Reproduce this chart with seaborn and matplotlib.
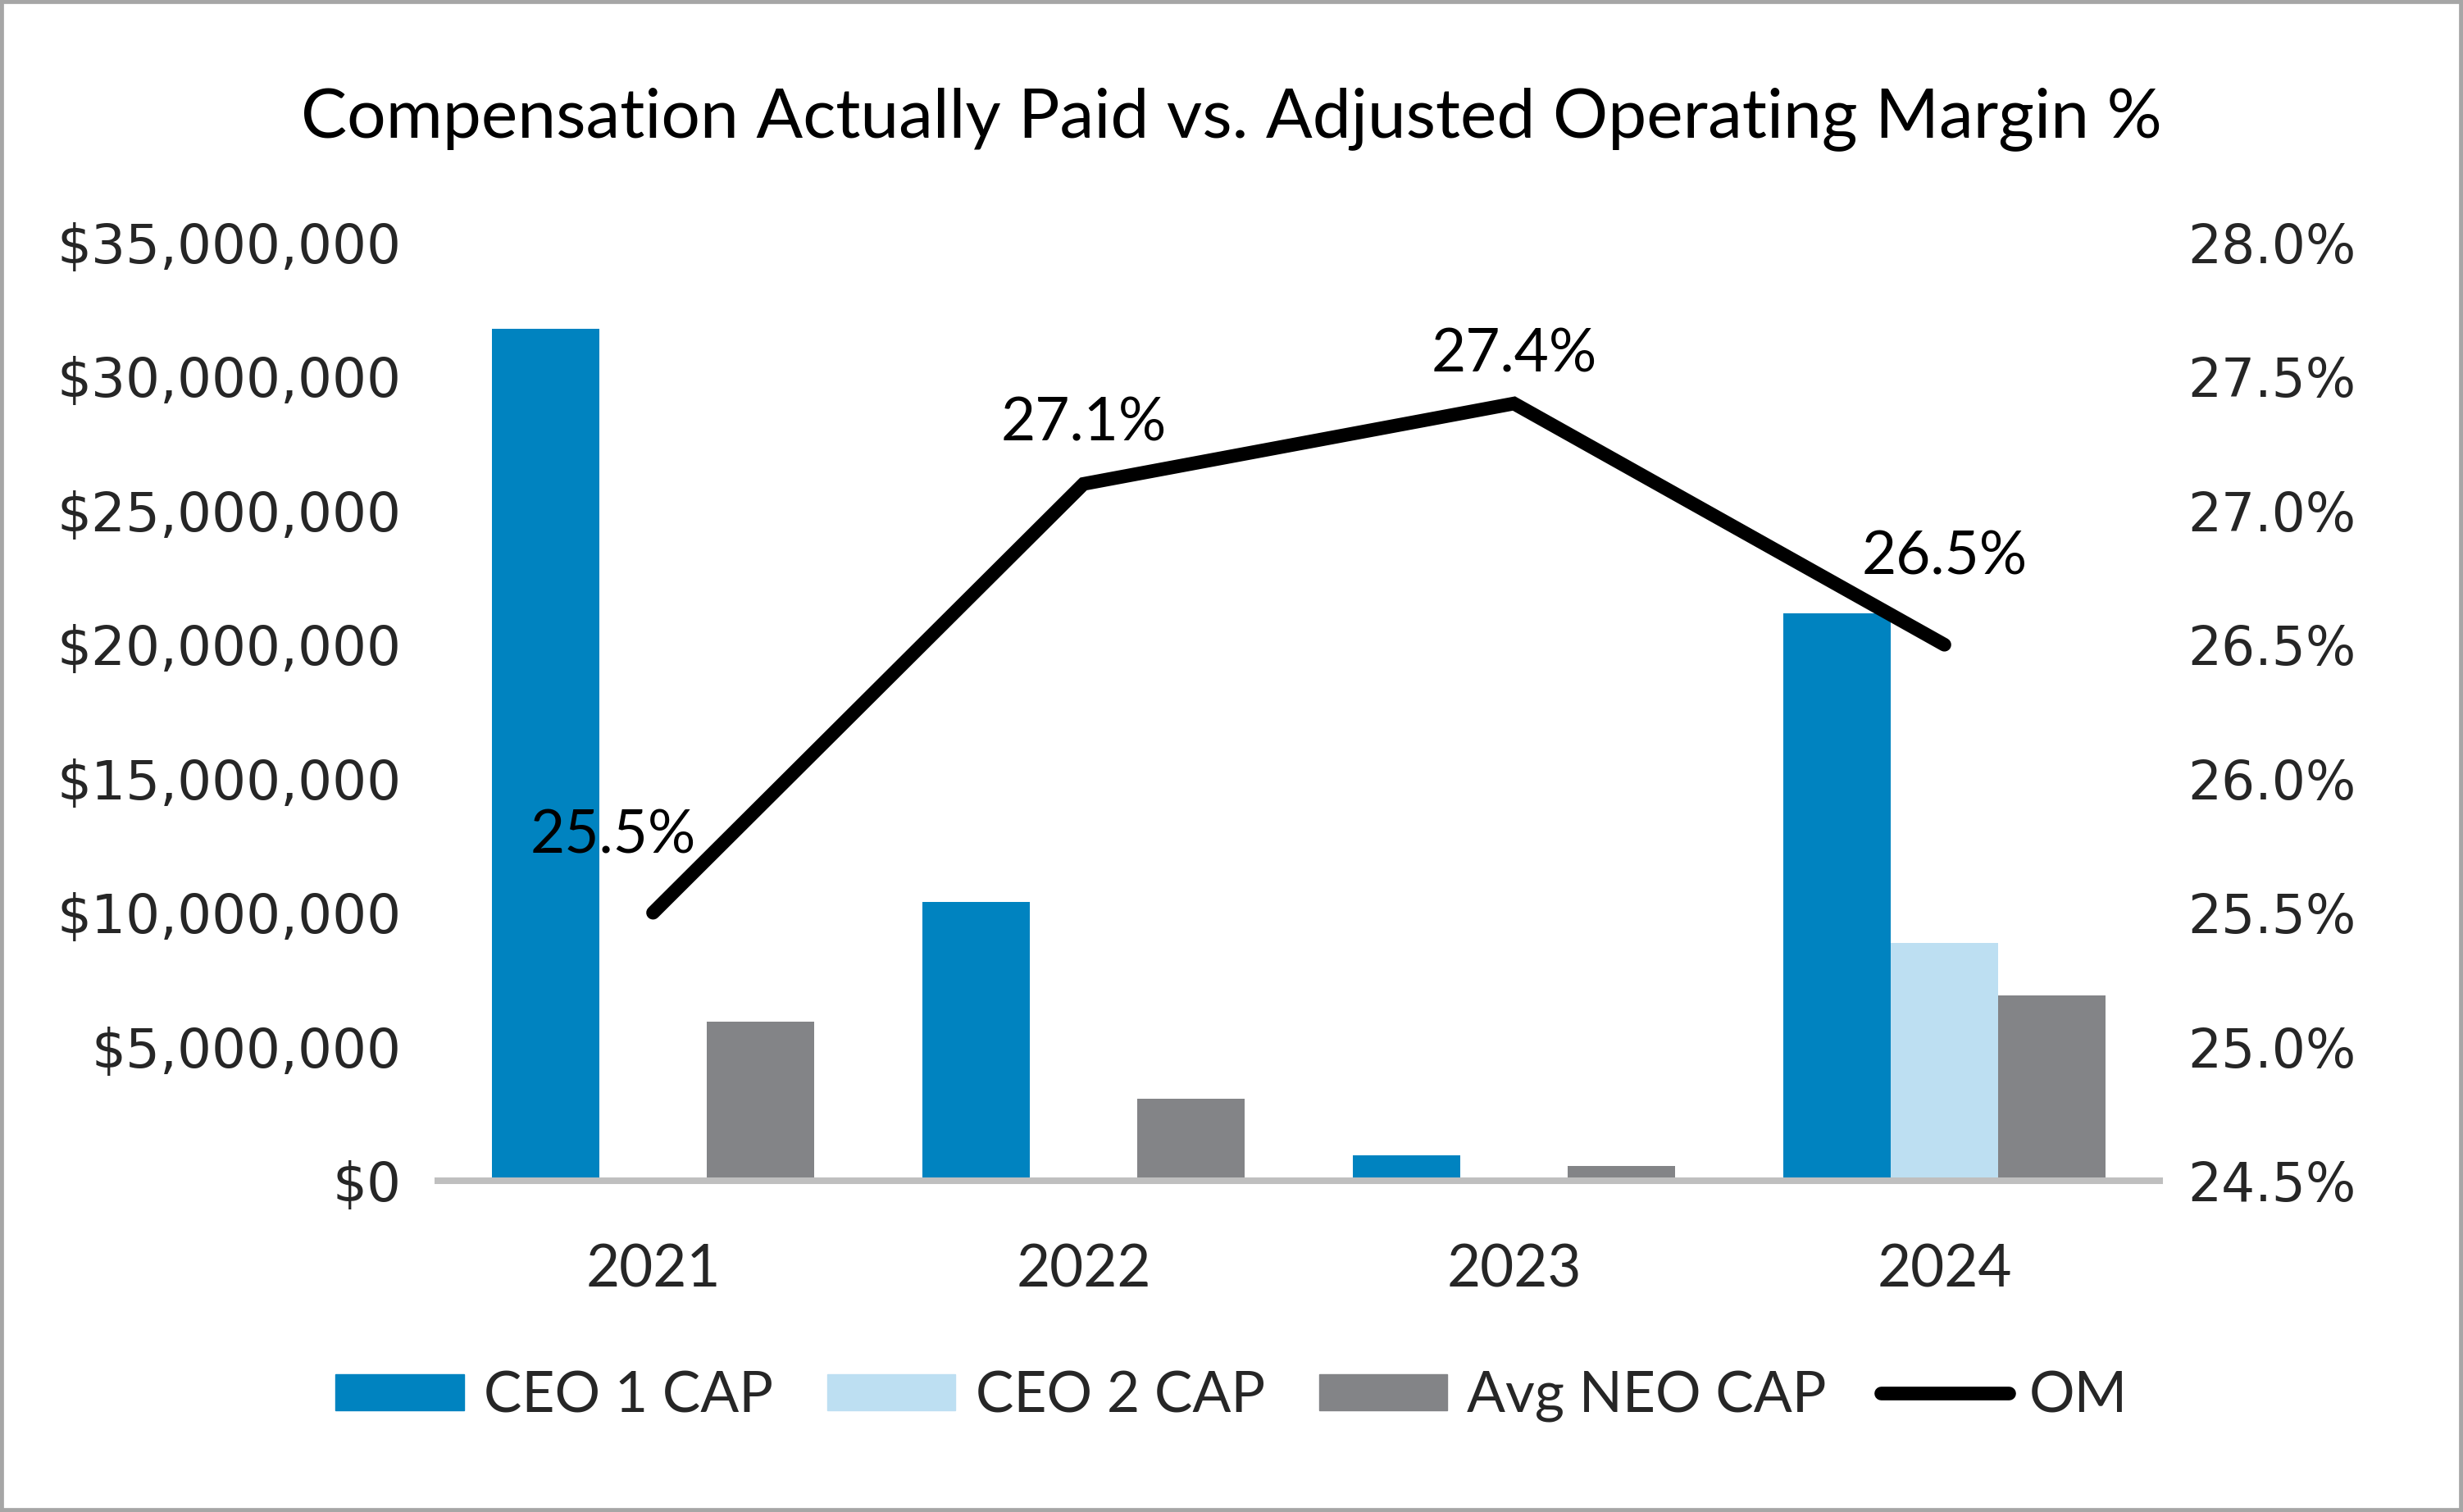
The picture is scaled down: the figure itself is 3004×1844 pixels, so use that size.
import numpy as np
import pandas as pd
import matplotlib
matplotlib.use("Agg")
import matplotlib.pyplot as plt
import matplotlib.patches as mpatches
from matplotlib.lines import Line2D
from matplotlib.ticker import FuncFormatter, MultipleLocator
import seaborn as sns

years = ["2021", "2022", "2023", "2024"]
ceo1_cap = [31_800_000, 10_400_000, 950_000, 21_170_000]
ceo2_cap = [np.nan, np.nan, np.nan, 8_870_000]
avg_neo_cap = [5_950_000, 3_060_000, 550_000, 6_910_000]
om_pct = [25.5, 27.1, 27.4, 26.5]
series_names = ["CEO 1 CAP", "CEO 2 CAP", "Avg NEO CAP"]

colors = {"CEO 1 CAP": "#0083C0", "CEO 2 CAP": "#BDDFF2", "Avg NEO CAP": "#838487"}
# label offsets in pixels (dx, dy) relative to line points
label_offsets = [(-49, 93), (0, 73), (0, 59), (0, 106)]

df = pd.DataFrame({"year": years, "CEO 1 CAP": ceo1_cap,
                   "CEO 2 CAP": ceo2_cap, "Avg NEO CAP": avg_neo_cap})
long = df.melt(id_vars="year", var_name="series", value_name="cap").dropna()

sns.set_theme(style="white")
plt.rcParams["font.family"] = ["DejaVu Sans"]
lab_font = "Lato"

fig = plt.figure(figsize=(30.04, 18.44), dpi=100)
ax = fig.add_axes([534 / 3004, 1 - 1440 / 1844, 2100 / 3004, 1144 / 1844])

sns.barplot(data=long, x="year", y="cap", hue="series", order=years,
            hue_order=series_names, palette=colors, width=0.75,
            linewidth=0, saturation=1, ax=ax, legend=False)
ax.set_xlim(-0.5, 3.5)
ax.set_ylim(0, 35_000_000)
ax.yaxis.set_major_locator(MultipleLocator(5_000_000))
ax.yaxis.set_major_formatter(FuncFormatter(lambda v, p: "${:,.0f}".format(v)))
ax.set_xlabel("")
ax.set_ylabel("")
for s in ["top", "left", "right"]:
    ax.spines[s].set_visible(False)
ax.spines["bottom"].set_color("#BFBFBF")
ax.spines["bottom"].set_linewidth(5.8)
ax.tick_params(axis="y", length=0, labelsize=47.5, pad=32)
ax.tick_params(axis="x", length=0, labelsize=51, pad=55)
for t in ax.get_xticklabels():
    t.set_fontfamily(lab_font)

ax2 = ax.twinx()
xpos = np.arange(len(years))
sns.lineplot(x=xpos, y=om_pct, ax=ax2, color="black", linewidth=12,
             solid_capstyle="round", solid_joinstyle="miter")
ax2.set_xlim(-0.5, 3.5)
ax2.set_ylim(24.5, 28.0)
ax2.yaxis.set_major_locator(MultipleLocator(0.5))
ax2.yaxis.set_major_formatter(FuncFormatter(lambda v, p: "{:.1f}%".format(v)))
for s in ax2.spines.values():
    s.set_visible(False)
ax2.tick_params(axis="y", length=0, labelsize=46.5, pad=25)
ax2.grid(False)
ax.grid(False)

for x, v, (dx, dy) in zip(xpos, om_pct, label_offsets):
    ax2.annotate("{:.1f}%".format(v), (x, v), xytext=(dx * 0.72, dy * 0.72),
                 textcoords="offset points", ha="center", va="center",
                 fontsize=52.5, family=lab_font, color="black")

fig.text(0.5, 1 - 145 / 1844, "Compensation Actually Paid vs. Adjusted Operating Margin %",
         ha="center", va="center", fontsize=60.5, family=lab_font, color="black")

handles = [mpatches.Patch(color=colors[n], label=n) for n in series_names]
handles.append(Line2D([0], [0], color="black", linewidth=12, solid_capstyle="round", label="OM"))
fig.legend(handles=handles, loc="center", bbox_to_anchor=(0.5, 1 - 1703 / 1844),
           ncol=4, frameon=False, prop={"family": lab_font, "size": 50},
           handlelength=2.25, handleheight=0.6, handletextpad=0.35, columnspacing=0.95)

fig.add_artist(mpatches.Rectangle((0, 0), 1, 1, transform=fig.transFigure,
                                  fill=False, edgecolor="#A6A6A6", linewidth=7, clip_on=False))

fig.savefig("out.png", dpi=100)
